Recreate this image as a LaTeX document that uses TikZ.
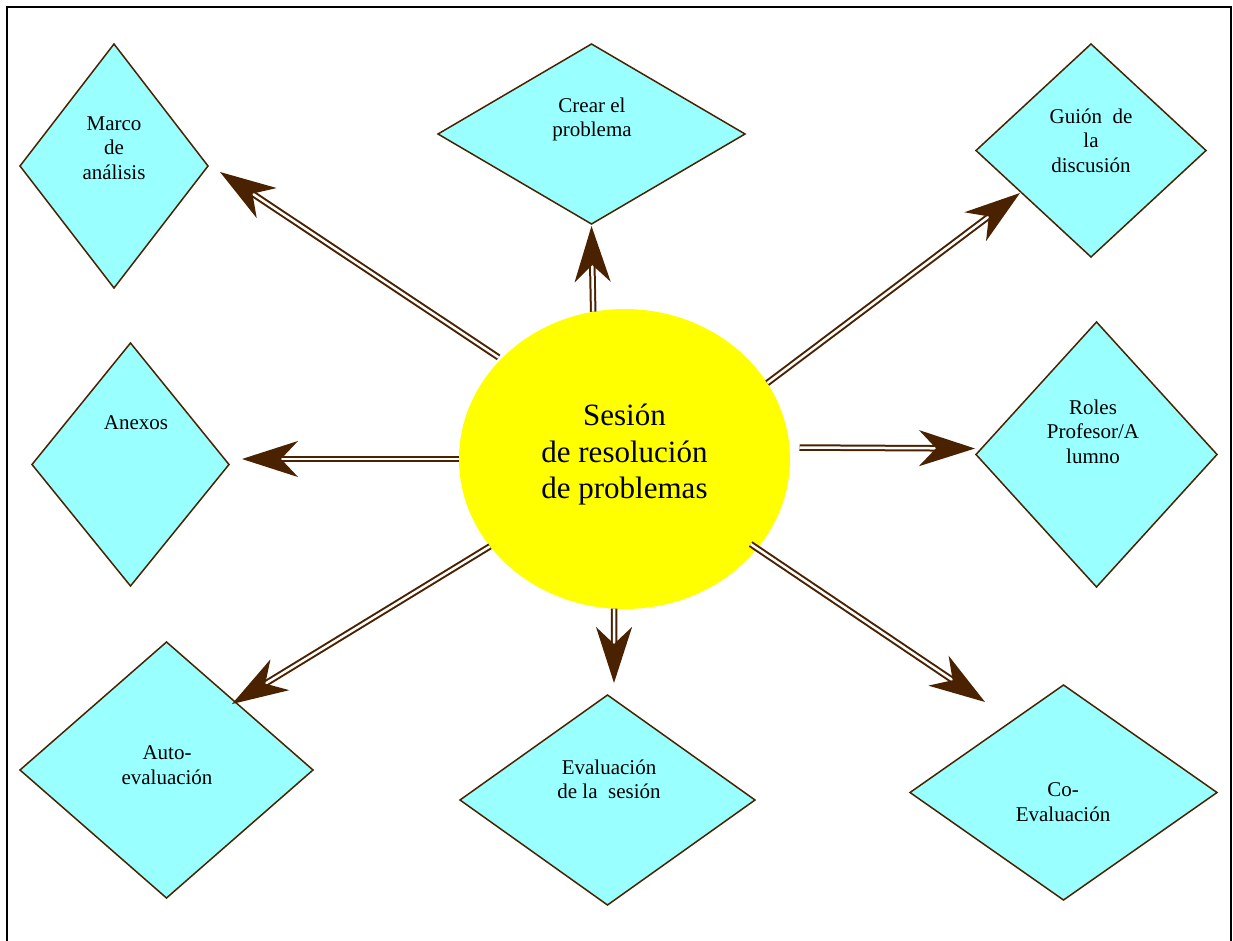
\documentclass[tikz,border=0pt]{standalone}
\usepackage{fontspec}
\setmainfont{Liberation Serif}
\usetikzlibrary{shapes.geometric,arrows.meta}
\definecolor{arrbrown}{HTML}{4A2200}
\definecolor{diacyan}{HTML}{99FFFF}
\definecolor{ellyellow}{HTML}{FFFF00}
\tikzset{
  dia/.style={diamond, draw=arrbrown, line width=1.5pt, fill=diacyan, inner sep=0pt, outer sep=0pt},
  dtext/.style={align=center, inner sep=0pt, font=\fontsize{21}{24.5}\selectfont},
  arr/.style={draw=arrbrown, line width=2pt, double=white, double distance=2.5pt,
    -{Stealth[length=56pt,width=36pt,inset=17pt]}}
}
\begin{document}
\begin{tikzpicture}[x=1pt,y=-1pt]
\useasboundingbox (0,0) rectangle (1233,941);
\fill[white] (0,0) rectangle (1233,941);
\draw[black, line width=2.5pt] (7,941) -- (7,7) -- (1231,7) -- (1231,941);

% diamonds
\node[dia, minimum width=188pt, minimum height=244pt] (d1) at (114,166) {};
\node[dia, minimum width=307pt, minimum height=180pt] (d2) at (591.5,134) {};
\node[dia, minimum width=230pt, minimum height=213pt] (d3) at (1091,150.5) {};
\node[dia, minimum width=197pt, minimum height=243pt] (d4) at (130.5,464.5) {};
\node[dia, minimum width=241pt, minimum height=265pt] (d5) at (1096.5,454.5) {};
\node[dia, minimum width=293pt, minimum height=256pt] (d6) at (166.5,770) {};
\node[dia, minimum width=295pt, minimum height=210pt] (d7) at (607.5,800) {};
\node[dia, minimum width=307pt, minimum height=215pt] (d8) at (1063.5,792.5) {};

% texts
\node[dtext] (t1) at (114,148) {Marco\\de\\análisis};
\node[dtext] (t2) at (592,119.5) {Crear el\\problema};
\node[dtext] (t3) at (1091,140.5) {Guión\ \ de\\la\\discusión};
\node[dtext] (t4) at (136,423) {Anexos};
\node[dtext] (t5) at (1093,431.5) {Roles\\Profesor/A\\lumno};
\node[dtext] (t6) at (167,765) {Auto-\\evaluación};
\node[dtext] (t7) at (609,779.5) {Evaluación\\de la\ \ sesión};
\node[dtext] (t8) at (1063,802) {Co-\\Evaluación};

% central ellipse
\node[ellipse, fill=ellyellow, minimum width=331pt, minimum height=300pt, inner sep=0pt, outer sep=0pt] (e) at (624.5,459) {};
\node[align=center, inner sep=0pt, font=\fontsize{31}{36.5}\selectfont] (te) at (624.5,455) {Sesión\\de resolución\\de problemas};

% arrow tips
\coordinate (a1) at (220,172);
\coordinate (a2) at (591.5,226);
\coordinate (a3) at (1020,193);
\coordinate (a4) at (242,459);
\coordinate (a5) at (975,448.5);
\coordinate (a6) at (232,704);
\coordinate (a7) at (614,683);
\coordinate (a8) at (985,702);

\draw[arr, shorten <=3pt] (e.141) -- (a1);
\draw[arr] (e.102) -- (a2);
\draw[arr] (e.28) -- (a3);
\draw[arr] (e.180) -- (a4);
\draw[arr, shorten <=10pt] (e.4) -- (a5);
\draw[arr] (e.213) -- (a6);
\draw[arr] (e.266) -- (a7);
\draw[arr, shorten <=-8pt] (e.326) -- (a8);
\end{tikzpicture}
\end{document}
